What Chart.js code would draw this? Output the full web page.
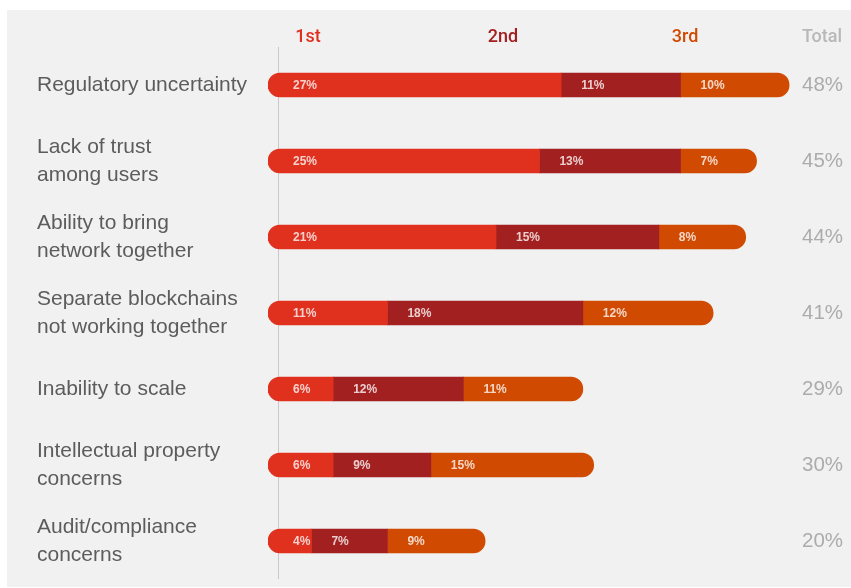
<!DOCTYPE html>
<html>
<head>
<meta charset="utf-8">
<script src="https://cdn.jsdelivr.net/npm/chart.js@4/dist/chart.umd.min.js"></script>
<style>
  html, body { margin: 0; padding: 0; background: #fff; }
  #wrap { width: 851px; height: 588px; }
</style>
</head>
<body>
<div id="wrap"><canvas id="chart" width="851" height="588"></canvas></div>
<script>
// data
const labels = [
    "Regulatory uncertainty",
    ["Lack of trust", "among users"],
    ["Ability to bring", "network together"],
    ["Separate blockchains", "not working together"],
    "Inability to scale",
    ["Intellectual property", "concerns"],
    ["Audit/compliance", "concerns"]
];
const first = [27, 25, 21, 11, 6, 6, 4];
const second = [11, 13, 15, 18, 12, 9, 7];
const third = [10, 7, 8, 12, 11, 15, 9];
const totals = ["48%", "45%", "44%", "41%", "29%", "30%", "20%"];
const headers = ["1st", "2nd", "3rd", "Total"];

const RED = "#e0301e", DARK = "#a32020", ORANGE = "#d04a02";

// grey panel + header row + vertical rule
const decor = {
    id: 'decor',
    beforeDraw(chart) {
        const ctx = chart.ctx;
        ctx.save();
        ctx.fillStyle = "#f1f1f1";
        ctx.fillRect(7, 10, 844, 577);
        ctx.restore();
    },
    beforeDatasetsDraw(chart) {
        const ctx = chart.ctx, a = chart.chartArea;
        ctx.save();
        ctx.strokeStyle = "#c8c8c8";
        ctx.lineWidth = 1;
        ctx.beginPath();
        ctx.moveTo(278.5, a.top);
        ctx.lineTo(278.5, a.bottom);
        ctx.stroke();

        ctx.font = "500 18px Roboto, 'Liberation Sans', Arial, sans-serif";
        ctx.textAlign = "center";
        ctx.textBaseline = "middle";
        const hx = [308, 503, 685, 822];
        const hc = [RED, DARK, ORANGE, "#b8b8b8"];
        headers.forEach((h, i) => {
            ctx.fillStyle = hc[i];
            ctx.fillText(h, hx[i], 37);
        });
        ctx.restore();
    },
    afterDatasetsDraw(chart) {
        const ctx = chart.ctx;
        ctx.save();
        ctx.font = "bold 12px 'Liberation Sans', Arial, sans-serif";
        ctx.fillStyle = "rgba(255,255,255,0.78)";
        ctx.textAlign = "left";
        ctx.textBaseline = "middle";
        chart.data.datasets.forEach((ds, di) => {
            const meta = chart.getDatasetMeta(di);
            meta.data.forEach((bar, i) => {
                const off = di === 0 ? 25 : 20;
                ctx.fillText(ds.data[i] + "%", bar.base + off, bar.y + 1);
            });
        });
        ctx.restore();
    }
};

function fixWidth(w) {
    return function (scale) {
        scale.width = w;
        scale.paddingTop = 0;
        scale.paddingBottom = 0;
    };
}

new Chart(document.getElementById('chart'), {
    type: 'bar',
    data: {
        labels: labels,
        datasets: [
            {
                label: "1st", data: first, backgroundColor: RED,
                borderSkipped: false,
                borderRadius: { topLeft: 12, bottomLeft: 12, topRight: 0, bottomRight: 0 }
            },
            {
                label: "2nd", data: second, backgroundColor: DARK,
                borderSkipped: false, borderRadius: 0
            },
            {
                label: "3rd", data: third, backgroundColor: ORANGE,
                borderSkipped: false,
                borderRadius: { topLeft: 0, bottomLeft: 0, topRight: 12, bottomRight: 12 }
            }
        ]
    },
    options: {
        indexAxis: 'y',
        responsive: false,
        animation: false,
        barThickness: 24,
        layout: { padding: { left: 37, top: 47, bottom: 9, right: 0 } },
        plugins: {
            legend: { display: false },
            tooltip: { enabled: false }
        },
        scales: {
            x: {
                stacked: true,
                min: 0,
                max: 49,
                display: false
            },
            y: {
                stacked: true,
                position: 'left',
                grid: { display: false, drawTicks: false },
                border: { display: false },
                afterFit: fixWidth(231),
                ticks: {
                    crossAlign: 'far',
                    color: "#5c5c5c",
                    padding: 0,
                    font: { family: "'Liberation Sans', Arial, sans-serif", size: 21, lineHeight: 1.33 }
                }
            },
            yTotal: {
                type: 'category',
                labels: totals,
                position: 'right',
                offset: true,
                grid: { display: false, drawTicks: false },
                border: { display: false },
                afterFit: fixWidth(51),
                ticks: {
                    color: "#acacac",
                    padding: 2,
                    font: { family: "'Liberation Sans', Arial, sans-serif", size: 20.5 }
                }
            }
        }
    },
    plugins: [decor]
});
</script>
</body>
</html>
